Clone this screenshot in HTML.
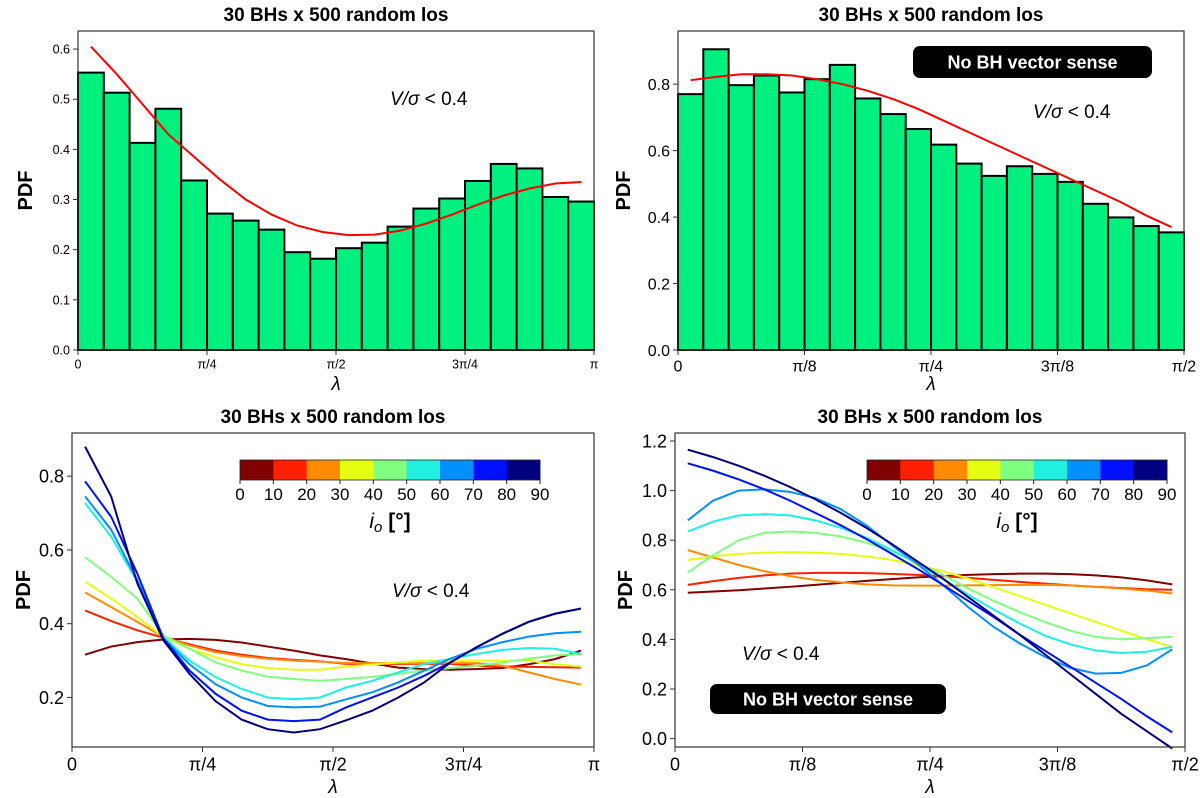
<!DOCTYPE html>
<html><head><meta charset="utf-8">
<style>
body{margin:0;background:#fff;}
svg{display:block;font-family:"Liberation Sans","DejaVu Sans",sans-serif;}
</style></head>
<body>
<svg id="fig" width="1200" height="798" viewBox="0 0 1200 798" xmlns="http://www.w3.org/2000/svg"></svg>
<script>
// ---- data ----
const histTL = [0.553,0.513,0.413,0.481,0.338,0.272,0.258,0.240,0.195,0.182,0.203,0.214,0.246,0.282,0.302,0.337,0.371,0.362,0.305,0.296];
const fitTL = [0.605,0.55,0.49,0.43,0.385,0.34,0.30,0.27,0.248,0.235,0.229,0.23,0.238,0.252,0.27,0.29,0.308,0.322,0.332,0.335];
const histTR = [0.77,0.905,0.797,0.826,0.775,0.815,0.858,0.757,0.710,0.665,0.618,0.561,0.524,0.553,0.530,0.506,0.440,0.399,0.373,0.354];
const fitTR = [0.812,0.822,0.83,0.83,0.826,0.815,0.80,0.78,0.755,0.725,0.69,0.655,0.62,0.585,0.55,0.515,0.48,0.445,0.405,0.37];
const colorbarTicks = ["0","10","20","30","40","50","60","70","80","90"];
const jetColors = ["#800000","#ff2000","#ff8c00","#e5ff12","#80ff80","#1ff0e0","#0090ff","#0010ff","#000080"];
const linesBL = [
 [0.316,0.338,0.350,0.357,0.359,0.356,0.349,0.338,0.327,0.314,0.304,0.292,0.281,0.277,0.275,0.277,0.280,0.290,0.304,0.327],
 [0.436,0.407,0.382,0.362,0.344,0.327,0.316,0.307,0.302,0.298,0.291,0.291,0.291,0.291,0.291,0.286,0.284,0.283,0.282,0.281],
 [0.485,0.445,0.405,0.364,0.341,0.323,0.312,0.305,0.300,0.297,0.293,0.293,0.293,0.293,0.293,0.293,0.286,0.268,0.250,0.235],
 [0.514,0.468,0.418,0.364,0.332,0.309,0.290,0.280,0.275,0.275,0.284,0.289,0.295,0.300,0.300,0.300,0.300,0.300,0.290,0.284],
 [0.580,0.527,0.468,0.368,0.332,0.295,0.273,0.256,0.250,0.245,0.250,0.256,0.264,0.273,0.280,0.286,0.295,0.305,0.314,0.318],
 [0.727,0.636,0.514,0.364,0.300,0.255,0.223,0.200,0.195,0.200,0.227,0.245,0.268,0.291,0.305,0.318,0.329,0.334,0.332,0.318],
 [0.745,0.655,0.518,0.360,0.290,0.236,0.200,0.177,0.173,0.175,0.195,0.214,0.241,0.273,0.305,0.332,0.350,0.365,0.374,0.378],
 [0.786,0.690,0.536,0.360,0.273,0.210,0.164,0.140,0.136,0.140,0.173,0.200,0.227,0.259,0.295,0.336,0.373,0.405,0.427,0.441],
 [0.880,0.745,0.510,0.355,0.264,0.190,0.140,0.114,0.105,0.114,0.138,0.164,0.200,0.241,0.295,0.336,0.373,0.405,0.427,0.441]
];
const linesBR = [
 [0.588,0.593,0.598,0.605,0.612,0.620,0.628,0.636,0.643,0.650,0.655,0.660,0.663,0.665,0.665,0.663,0.658,0.650,0.638,0.622],
 [0.62,0.635,0.648,0.658,0.665,0.668,0.668,0.667,0.664,0.66,0.655,0.648,0.64,0.632,0.625,0.618,0.612,0.607,0.602,0.60],
 [0.76,0.73,0.70,0.675,0.655,0.64,0.63,0.622,0.618,0.617,0.617,0.618,0.619,0.62,0.62,0.618,0.612,0.605,0.597,0.585],
 [0.72,0.735,0.745,0.75,0.752,0.75,0.745,0.735,0.72,0.70,0.675,0.645,0.61,0.575,0.54,0.505,0.47,0.435,0.40,0.37],
 [0.67,0.74,0.80,0.83,0.835,0.83,0.815,0.79,0.755,0.71,0.66,0.605,0.555,0.51,0.47,0.435,0.41,0.40,0.405,0.41],
 [0.835,0.875,0.90,0.905,0.90,0.88,0.85,0.81,0.76,0.705,0.645,0.58,0.52,0.465,0.415,0.38,0.355,0.345,0.35,0.37],
 [0.88,0.96,1.0,1.005,0.995,0.97,0.925,0.86,0.78,0.705,0.62,0.53,0.45,0.385,0.33,0.285,0.262,0.265,0.295,0.36],
 [1.11,1.08,1.045,1.005,0.96,0.91,0.86,0.805,0.745,0.685,0.62,0.555,0.49,0.42,0.355,0.29,0.225,0.16,0.09,0.025],
 [1.165,1.135,1.10,1.06,1.015,0.965,0.91,0.85,0.785,0.715,0.645,0.57,0.495,0.42,0.34,0.26,0.18,0.10,0.03,-0.04]
];
const yTicksTL = [0,0.1,0.2,0.3,0.4,0.5,0.6];
const yTicksTR = [0,0.2,0.4,0.6,0.8];
const yTicksBL = [0.2,0.4,0.6,0.8];
const yTicksBR = [0,0.2,0.4,0.6,0.8,1.0,1.2];
const xLabelsPi = ["0","π/4","π/2","3π/4","π"];
const xLabelsHalf = ["0","π/8","π/4","3π/8","π/2"];

// ---- drawing ----
const NS="http://www.w3.org/2000/svg";
const svg=document.getElementById('fig');
function mk(tag,attrs,parent,text){const e=document.createElementNS(NS,tag);for(const k in attrs)e.setAttribute(k,attrs[k]);if(text!==undefined)e.textContent=text;(parent||svg).appendChild(e);return e;}

function panel(p){
  const g=mk('g',{});
  
  
  const X=v=>p.x0+(p.x1-p.x0)*v;
  const Y=v=>p.y1-(v-p.ymin)/(p.ymax-p.ymin)*(p.y1-p.y0);
  const n=20, bw=(p.x1-p.x0)/n;
  if(p.hist){
    p.hist.forEach((v,i)=>{
      const r=mk('rect',{x:X(i/n),y:Y(v),width:bw,height:Y(0)-Y(v),fill:'#00f080',stroke:'#000','stroke-width':2},g);
      
      
    });
  }
  if(p.fit){
    const pts=p.fit.map((v,i)=>X((i+0.5)/n)+','+Y(v)).join(' ');
    const l=mk('polyline',{points:pts,fill:'none',stroke:'#ff0000','stroke-width':2},g);
    
    
  }
  if(p.lines){
    p.lines.forEach((s,k)=>{
      const pts=s.map((v,i)=>X((i+0.5)/n)+','+Y(v)).join(' ');
      const l=mk('polyline',{points:pts,fill:'none',stroke:jetColors[k],'stroke-width':2},g);
      
      
    });
  }
  const ax=mk('rect',{x:p.x0,y:p.y0,width:p.x1-p.x0,height:p.y1-p.y0,fill:'none',stroke:'#333','stroke-width':1.2},g);
  
  
  p.yt.forEach(v=>{
    mk('line',{x1:p.x0-5,x2:p.x0,y1:Y(v),y2:Y(v),stroke:'#333'},g);
    const t=mk('text',{x:p.x0-8,y:Y(v)+p.fs*0.36,'text-anchor':'end','font-size':p.fs,fill:'#000'},g,v.toFixed(1));
    
    
  });
  p.xl.forEach((s,i)=>{
    const x=X(i/4);
    mk('line',{x1:x,x2:x,y1:p.y1,y2:p.y1+5,stroke:'#333'},g);
    const t=mk('text',{x:x,y:p.y1+8+p.fs*0.85,'text-anchor':'middle','font-size':p.fs,fill:'#000'},g,s);
    
    
  });
  const tt=mk('text',{x:(p.x0+p.x1)/2,y:p.y0-10,'text-anchor':'middle','font-size':19,'font-weight':'bold'},g,'30 BHs x 500 random los');
  
  
  const xt=mk('text',{x:(p.x0+p.x1)/2,y:p.xly,'text-anchor':'middle','font-size':19,'font-style':'italic'},g,'λ');
  
  
  const yc=(p.y0+p.y1)/2;
  const yt=mk('text',{x:p.ylx,y:yc,'text-anchor':'middle','font-size':20,'font-weight':'bold',transform:`rotate(-90 ${p.ylx} ${yc})`},g,'PDF');
  
  
  const vs=mk('text',{x:p.vx,y:p.vy,'font-size':19},g);
  
  
  mk('tspan',{'font-style':'italic'},vs,'V/σ');
  mk('tspan',{},vs,' < 0.4');
  if(p.box){
    const b=p.box;
    const r=mk('rect',{x:b[0],y:b[1],width:b[2],height:b[3],rx:7,fill:'#000'},g);
    
    
    mk('text',{x:b[0]+b[2]/2,y:b[1]+b[3]/2+6.5,'text-anchor':'middle','font-size':18,'font-weight':'bold',fill:'#fff'},g,'No BH vector sense');
  }
  if(p.cb){
    const c=p.cb, w=(c[1]-c[0])/9;
    const cg=mk('g',{},g);
    
    
    jetColors.forEach((col,k)=>mk('rect',{x:c[0]+k*w,y:c[2],width:w+0.5,height:20,fill:col},cg));
    mk('rect',{x:c[0],y:c[2],width:c[1]-c[0],height:20,fill:'none',stroke:'#222','stroke-width':0.8},cg);
    colorbarTicks.forEach((s,k)=>{
      mk('line',{x1:c[0]+k*w,x2:c[0]+k*w,y1:c[2]+20,y2:c[2]+24,stroke:'#222'},cg);
      mk('text',{x:c[0]+k*w,y:c[2]+40,'text-anchor':'middle','font-size':17},cg,s);
    });
    const lb=mk('text',{x:(c[0]+c[1])/2,y:c[2]+68,'text-anchor':'middle','font-size':21},cg);
    mk('tspan',{'font-style':'italic'},lb,'i');
    mk('tspan',{'font-style':'italic','font-size':15,dy:4},lb,'o');
    mk('tspan',{'font-weight':'bold',dy:-4},lb,' [°]');
  }
}

panel({name:'panel-top-left',x0:78,x1:594,y0:31,y1:350,ymin:0,ymax:0.636,hist:histTL,fit:fitTL,yt:yTicksTL,xl:xLabelsPi,fs:12.5,xly:390,ylx:32,vx:390,vy:105});
panel({name:'panel-top-right',x0:678,x1:1184,y0:31,y1:350,ymin:0,ymax:0.96,hist:histTR,fit:fitTR,yt:yTicksTR,xl:xLabelsHalf,fs:16,xly:390,ylx:630,vx:1033,vy:118,box:[913,46,239,32]});
panel({name:'panel-bottom-left',x0:72,x1:594,y0:433,y1:747,ymin:0.0657,ymax:0.917,lines:linesBL,yt:yTicksBL,xl:xLabelsPi,fs:18,xly:793,ylx:30,vx:392,vy:597,cb:[240,540,460]});
panel({name:'panel-bottom-right',x0:675,x1:1185,y0:433,y1:747,ymin:-0.0339,ymax:1.2322,lines:linesBR,yt:yTicksBR,xl:xLabelsHalf,fs:18,xly:793,ylx:632,vx:742,vy:660,box:[710,684,236,30],cb:[867,1167,460]});
</script>
</body></html>
